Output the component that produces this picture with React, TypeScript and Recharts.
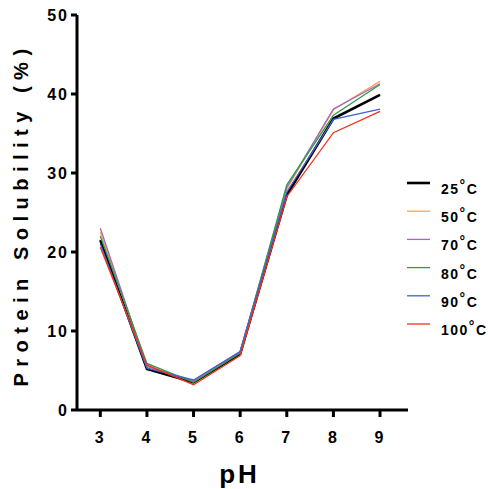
import React from 'react';
import { LineChart, Line, XAxis, YAxis } from 'recharts';

const phValues = [3, 4, 5, 6, 7, 8, 9];
const sol25 = [21.5, 5.2, 3.5, 7.1, 27.2, 36.9, 39.9];
const sol50 = [22.5, 5.6, 3.6, 7.3, 28.0, 38.0, 41.6];
const sol70 = [23.0, 5.5, 3.7, 7.4, 28.2, 38.1, 41.3];
const sol80 = [22.0, 5.9, 3.5, 7.2, 28.5, 37.3, 41.2];
const sol90 = [21.0, 5.3, 3.8, 7.4, 27.6, 36.8, 38.1];
const sol100 = [20.6, 5.7, 3.2, 6.9, 27.0, 35.1, 37.8];

const xTicks = [3, 4, 5, 6, 7, 8, 9];
const yTicks = [0, 10, 20, 30, 40, 50];

const seriesList = [
  { key: 't25', temp: '25', color: '#000000', width: 2.6, values: sol25 },
  { key: 't50', temp: '50', color: '#f5a54a', width: 1.3, values: sol50 },
  { key: 't70', temp: '70', color: '#a565c8', width: 1.3, values: sol70 },
  { key: 't80', temp: '80', color: '#2f9a4c', width: 1.3, values: sol80 },
  { key: 't90', temp: '90', color: '#4262d2', width: 1.3, values: sol90 },
  { key: 't100', temp: '100', color: '#f0321e', width: 1.3, values: sol100 },
];

const data = phValues.map((ph, i) => {
  const row: Record<string, number> = { ph };
  seriesList.forEach((s) => {
    row[s.key] = s.values[i];
  });
  return row;
});

const FONT = '"Liberation Sans", Arial, sans-serif';

function YTitle(props: any) {
  const vb = props.viewBox || { x: 0, y: 15, width: 77, height: 395 };
  const cx = 28;
  const cy = vb.y + vb.height / 2 + 2;
  return (
    <text
      x={cx}
      y={cy}
      transform={`rotate(-90, ${cx}, ${cy})`}
      textAnchor="middle"
      fontSize={20}
      fontWeight="bold"
      letterSpacing={6.5}
      fill="#000"
    >
      Protein Solubility (%)
    </text>
  );
}

function XTitle(props: any) {
  const vb = props.viewBox || { x: 77, y: 410, width: 331, height: 79 };
  return (
    <text
      x={vb.x + vb.width / 2 - 3}
      y={483}
      textAnchor="middle"
      fontSize={26}
      fontWeight="bold"
      letterSpacing={3}
      fill="#000"
    >
      pH
    </text>
  );
}

function TempLegend() {
  return (
    <svg
      width={488}
      height={489}
      style={{ position: 'absolute', left: 0, top: 0, pointerEvents: 'none' }}
    >
      {seriesList.map((s, i) => {
        const y = 183 + i * 28.2;
        return (
          <g key={s.key}>
            <line x1={407} x2={430} y1={y} y2={y} stroke={s.color} strokeWidth={s.width} />
            <text x={441} y={y + 11} fontSize={14} fontWeight="bold" letterSpacing={1.5} fill="#000">
              {s.temp}
              <tspan fontSize={14} dy={-4}>°</tspan>
              <tspan dy={4}>C</tspan>
            </text>
          </g>
        );
      })}
    </svg>
  );
}

export default function App() {
  return (
    <div
      style={{
        position: 'absolute',
        left: 0,
        top: 0,
        width: 488,
        height: 489,
        background: '#fff',
        fontFamily: FONT,
      }}
    >
      <LineChart
        width={488}
        height={489}
        data={data}
        margin={{ top: 15, right: 80, bottom: 0, left: 0 }}
      >
        <XAxis
          dataKey="ph"
          type="number"
          domain={[2.5, 9.6]}
          ticks={xTicks}
          height={79}
          tickSize={7}
          tickMargin={15}
          axisLine={{ stroke: '#000', strokeWidth: 3 }}
          tickLine={{ stroke: '#000', strokeWidth: 3 }}
          tick={{ fill: '#000', fontSize: 16, fontWeight: 'bold', letterSpacing: 2 }}
          label={<XTitle />}
        />
        <YAxis
          type="number"
          domain={[0, 50]}
          ticks={yTicks}
          width={77}
          tickSize={6}
          tickMargin={2}
          axisLine={{ stroke: '#000', strokeWidth: 3 }}
          tickLine={{ stroke: '#000', strokeWidth: 3 }}
          tick={{ fill: '#000', fontSize: 16, fontWeight: 'bold', letterSpacing: 2 }}
          label={<YTitle />}
        />
        {seriesList.map((s) => (
          <Line
            key={s.key}
            dataKey={s.key}
            type="linear"
            stroke={s.color}
            strokeWidth={s.width}
            dot={false}
            activeDot={false}
            isAnimationActive={false}
          />
        ))}
      </LineChart>
      <TempLegend />
    </div>
  );
}
